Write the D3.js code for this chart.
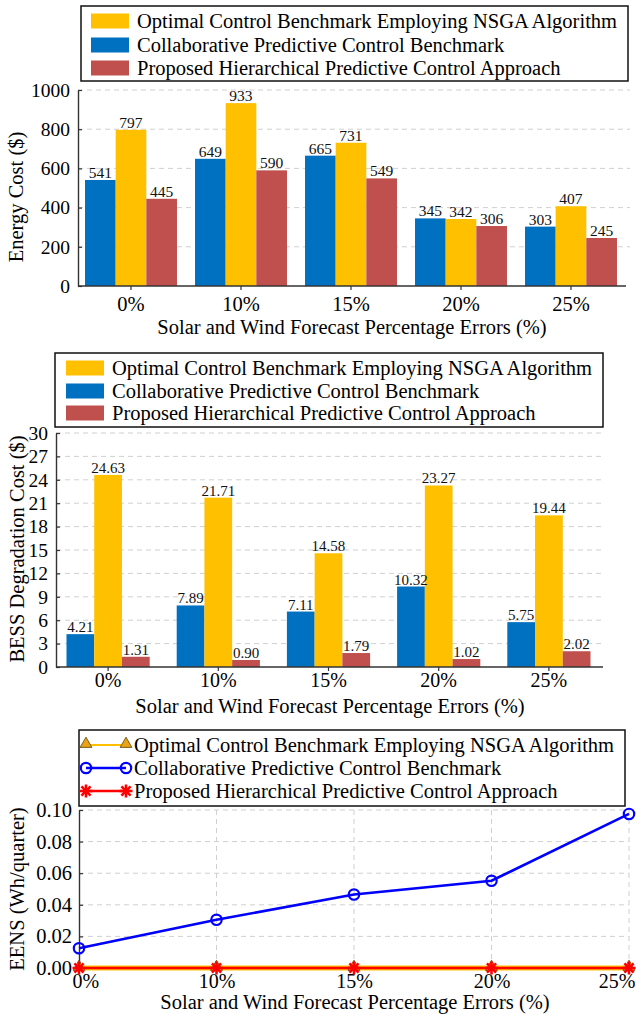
<!DOCTYPE html>
<html>
<head>
<meta charset="utf-8">
<script src="https://cdn.jsdelivr.net/npm/d3@7/dist/d3.min.js"></script>
<style>
  html, body { margin: 0; padding: 0; background: #fff; }
  svg { display: block; font-family: "Liberation Serif", "Times New Roman", serif; }
</style>
</head>
<body>
<svg id="fig" width="636" height="1014"></svg>
<script>
// ---- data ----
const categories = ["0%", "10%", "15%", "20%", "25%"];
const seriesNames = [
  "Optimal Control Benchmark Employing NSGA Algorithm",
  "Collaborative Predictive Control Benchmark",
  "Proposed Hierarchical Predictive Control Approach"
];
const energyNSGA = [797, 933, 731, 342, 407];
const energyCollab = [541, 649, 665, 345, 303];
const energyProposed = [445, 590, 549, 306, 245];

const bessNSGA = [24.63, 21.71, 14.58, 23.27, 19.44];
const bessCollab = [4.21, 7.89, 7.11, 10.32, 5.75];
const bessProposed = [1.31, 0.90, 1.79, 1.02, 2.02];

const eensNSGA = [0, 0, 0, 0, 0];
const eensCollab = [0.0125, 0.0305, 0.0465, 0.0552, 0.0975];
const eensProposed = [0, 0, 0, 0, 0];

const energyTicks = [0, 200, 400, 600, 800, 1000];
const bessTicks = [0, 3, 6, 9, 12, 15, 18, 21, 24, 27, 30];
const eensTicks = [0, 0.02, 0.04, 0.06, 0.08, 0.10];

const xTitle = "Solar and Wind Forecast Percentage Errors (%)";

// ---- styles ----
const C = { nsga: "#FFC000", collab: "#0070C0", proposed: "#C0504D" };
const AXIS = "#333";
const GRID = "#d0d0d0";
const FS_LABEL = 20.5, FS_TICK = 19.5;

const svg = d3.select("#fig");

function styleAxis(g) {
  g.selectAll(".domain").attr("stroke", AXIS).attr("stroke-width", 1.4);
  g.selectAll(".tick line").attr("stroke", AXIS).attr("stroke-width", 1.2);
  g.selectAll(".tick text").attr("fill", "#000").style("font-size", FS_TICK + "px")
    .style("font-family", "'Liberation Serif', 'Times New Roman', serif");
}

function legendBox(x0, y0, x1, y1) {
  svg.append("rect").attr("x", x0).attr("y", y0).attr("width", x1 - x0).attr("height", y1 - y0)
    .attr("fill", "#fff").attr("stroke", "#111").attr("stroke-width", 1.5);
}

function yTitle(text, x, y) {
  svg.append("text").attr("transform", `translate(${x},${y}) rotate(-90)`)
    .attr("text-anchor", "middle").style("font-size", FS_LABEL + "px").text(text);
}

function xTitleText(x, y) {
  svg.append("text").attr("x", x).attr("y", y).attr("text-anchor", "middle")
    .style("font-size", FS_LABEL + "px").text(xTitle);
}

// ---- grouped bar chart ----
function barChart(o) {
  const x0 = d3.scaleBand().domain(categories).range(o.xRange).paddingInner(o.pad).paddingOuter(o.pad / 2);
  const keys = ["collab", "nsga", "proposed"];
  const x1 = d3.scaleBand().domain(keys).range([0, x0.bandwidth()]);
  const y = d3.scaleLinear().domain(o.yDomain).range([o.yBottom, o.yTop]);
  const vals = { collab: o.collab, nsga: o.nsga, proposed: o.proposed };

  // gridlines
  svg.append("g").selectAll("line").data(o.ticks.filter(t => t > 0)).join("line")
    .attr("x1", o.axisLeft).attr("x2", o.gridRight)
    .attr("y1", d => y(d)).attr("y2", d => y(d))
    .attr("stroke", GRID).attr("stroke-width", 1).attr("stroke-dasharray", "5,4");

  // bars
  const groups = svg.append("g").selectAll("g").data(categories).join("g")
    .attr("transform", d => `translate(${x0(d)},0)`);
  groups.selectAll("rect").data((d, i) => keys.map(k => ({ k, v: vals[k][i] }))).join("rect")
    .attr("x", d => x1(d.k)).attr("width", x1.bandwidth())
    .attr("y", d => y(d.v)).attr("height", d => y(0) - y(d.v))
    .attr("fill", d => C[d.k]);
  groups.selectAll("text").data((d, i) => keys.map(k => ({ k, v: vals[k][i] }))).join("text")
    .attr("x", d => x1(d.k) + x1.bandwidth() / 2).attr("y", d => y(d.v) - 2)
    .attr("text-anchor", "middle").style("font-size", o.valueFs + "px").attr("fill", "#111")
    .text(d => o.fmt(d.v));

  // y axis (ticks point inward)
  const gy = svg.append("g").attr("transform", `translate(${o.axisLeft},0)`)
    .call(d3.axisLeft(y).tickValues(o.ticks).tickSizeInner(-4).tickSizeOuter(0).tickPadding(8).tickFormat(o.tickFmt));
  styleAxis(gy);

  // x axis
  const gx = svg.append("g").attr("transform", `translate(0,${o.yBottom})`)
    .call(d3.axisBottom(x0).tickSizeInner(4).tickSizeOuter(0).tickPadding(o.tickPad));
  gx.select(".domain").attr("d", `M${o.axisLeft},0H${o.axisRight}`);
  styleAxis(gx);
  gx.selectAll(".tick text").style("font-size", o.xTickFs + "px");

  // legend
  legendBox(o.leg[0], o.leg[1], o.leg[2], o.leg[3]);
  const legKeys = ["nsga", "collab", "proposed"];
  legKeys.forEach((k, i) => {
    const cy = o.legRows[i];
    svg.append("rect").attr("x", o.legSwX).attr("y", cy - 7.5).attr("width", 38).attr("height", 15).attr("fill", C[k]);
    svg.append("text").attr("x", o.legTextX).attr("y", cy + 7).style("font-size", FS_LABEL + "px").text(seriesNames[i]);
  });
}

// Energy cost
barChart({
  xRange: [76, 626], pad: 0.164, axisLeft: 78, axisRight: 626, gridRight: 630,
  yDomain: [0, 1000], yBottom: 286, yTop: 90, ticks: energyTicks,
  nsga: energyNSGA, collab: energyCollab, proposed: energyProposed,
  fmt: d3.format("d"), tickFmt: d3.format("d"), valueFs: 15.5, tickPad: 6, xTickFs: 20.5,
  leg: [81, 6, 628, 81], legRows: [21, 45, 68], legSwX: 91, legTextX: 137
});
yTitle("Energy Cost ($)", 23, 197);
xTitleText(352, 334);

// BESS degradation cost
barChart({
  xRange: [53, 604], pad: 0.245, axisLeft: 56, axisRight: 603, gridRight: 603,
  yDomain: [0, 30], yBottom: 667, yTop: 433, ticks: bessTicks,
  nsga: bessNSGA, collab: bessCollab, proposed: bessProposed,
  fmt: d3.format(".2f"), tickFmt: d3.format("d"), valueFs: 15, tickPad: 2, xTickFs: 20,
  leg: [55, 353, 603, 427], legRows: [368, 391, 413], legSwX: 66, legTextX: 112
});
yTitle("BESS Degradation Cost ($)", 24, 549);
xTitleText(330, 713);

// ---- EENS line chart ----
(function () {
  const left = 79, right = 629, top = 810, bottom = 968;
  const x = d3.scalePoint().domain(categories).range([left, right]).padding(0);
  const y = d3.scaleLinear().domain([0, 0.1]).range([bottom, top]);

  // grid
  svg.append("g").selectAll("line").data(eensTicks.filter(t => t > 0)).join("line")
    .attr("x1", left).attr("x2", right).attr("y1", d => y(d)).attr("y2", d => y(d))
    .attr("stroke", GRID).attr("stroke-dasharray", "5,4");
  svg.append("g").selectAll("line").data(categories.slice(1)).join("line")
    .attr("x1", d => x(d)).attr("x2", d => x(d)).attr("y1", top).attr("y2", bottom)
    .attr("stroke", GRID).attr("stroke-dasharray", "5,4");

  const gy = svg.append("g").attr("transform", `translate(${left},0)`)
    .call(d3.axisLeft(y).tickValues(eensTicks).tickSizeInner(-4).tickSizeOuter(0).tickPadding(7).tickFormat(d3.format(".2f")));
  styleAxis(gy);
  gy.selectAll(".tick text").style("font-size", "20.5px");
  const gx = svg.append("g").attr("transform", `translate(0,${bottom})`)
    .call(d3.axisBottom(x).tickSizeInner(0).tickSizeOuter(0).tickPadding(6));
  styleAxis(gx);
  gx.selectAll(".tick text").style("font-size", "20px");
  // first label sits just right of the axis corner, last one kept inside the frame
  gx.selectAll(".tick text").filter(d => d === categories[0]).attr("text-anchor", "start").attr("x", -7);
  gx.selectAll(".tick text").filter(d => d === categories[categories.length - 1]).attr("text-anchor", "end").attr("x", 6);

  const line = d3.line().x((d, i) => x(categories[i])).y(d => y(d));

  const tri = d3.symbol().type(d3.symbolTriangle).size(60);
  function triangle(g, cx, cy) {
    g.append("path").attr("d", tri()).attr("transform", `translate(${cx},${cy - 1})`)
      .attr("fill", "#E8A317").attr("stroke", "#5a4000").attr("stroke-width", 0.8);
  }
  function asterisk(g, cx, cy) {
    const r = 6.5;
    [0, 45, 90, 135].forEach(a => {
      const t = a * Math.PI / 180;
      g.append("line").attr("x1", cx - r * Math.cos(t)).attr("y1", cy - r * Math.sin(t))
        .attr("x2", cx + r * Math.cos(t)).attr("y2", cy + r * Math.sin(t))
        .attr("stroke", "#FF0000").attr("stroke-width", 2.6);
    });
  }
  function circle(g, cx, cy) {
    g.append("circle").attr("cx", cx).attr("cy", cy).attr("r", 5.2)
      .attr("fill", "none").attr("stroke", "#0000FF").attr("stroke-width", 2.2);
  }

  const plot = svg.append("g");
  plot.append("path").datum(eensNSGA).attr("d", line).attr("fill", "none")
    .attr("stroke", "#FFC000").attr("stroke-width", 5);
  eensNSGA.forEach((v, i) => triangle(plot, x(categories[i]), y(v)));
  plot.append("path").datum(eensProposed).attr("d", line).attr("fill", "none")
    .attr("stroke", "#FF0000").attr("stroke-width", 2.5);
  eensProposed.forEach((v, i) => asterisk(plot, x(categories[i]), y(v)));
  plot.append("path").datum(eensCollab).attr("d", line).attr("fill", "none")
    .attr("stroke", "#0000FF").attr("stroke-width", 2.6);
  eensCollab.forEach((v, i) => circle(plot, x(categories[i]), y(v)));

  // legend
  legendBox(79, 730, 625, 806);
  const rows = [745, 768, 791];
  const lx0 = 86, lx1 = 126;
  const lg = svg.append("g");
  lg.append("line").attr("x1", lx0).attr("x2", lx1).attr("y1", rows[0]).attr("y2", rows[0]).attr("stroke", "#FFC000").attr("stroke-width", 2.2);
  triangle(lg, lx0, rows[0]); triangle(lg, lx1, rows[0]);
  lg.append("line").attr("x1", lx0).attr("x2", lx1).attr("y1", rows[1]).attr("y2", rows[1]).attr("stroke", "#0000FF").attr("stroke-width", 2.6);
  circle(lg, lx0, rows[1]); circle(lg, lx1, rows[1]);
  lg.append("line").attr("x1", lx0).attr("x2", lx1).attr("y1", rows[2]).attr("y2", rows[2]).attr("stroke", "#FF0000").attr("stroke-width", 2.5);
  asterisk(lg, lx0, rows[2]); asterisk(lg, lx1, rows[2]);
  seriesNames.forEach((s, i) => {
    lg.append("text").attr("x", 134).attr("y", rows[i] + 7).style("font-size", FS_LABEL + "px").text(s);
  });

  yTitle("EENS (Wh/quarter)", 24, 889);
  xTitleText(355, 1009);
})();
</script>
</body>
</html>
